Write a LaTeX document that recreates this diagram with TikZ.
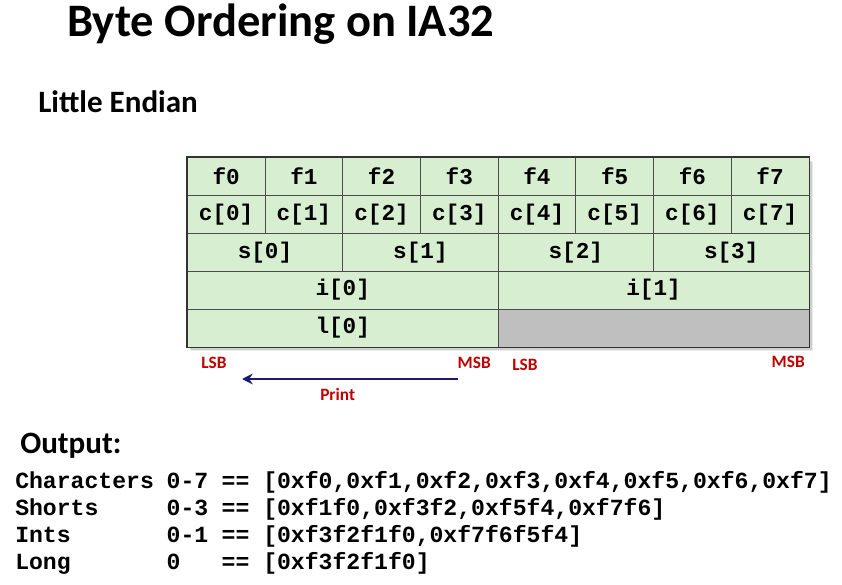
\documentclass[tikz,border=0pt]{standalone}
\usepackage{fontspec}
\setmainfont{Carlito}
\newfontfamily\codefont{Liberation Mono}
\usetikzlibrary{shadows,arrows.meta}
\definecolor{cellgreen}{RGB}{215,239,208}
\definecolor{cellgray}{RGB}{191,191,191}
\definecolor{lsbred}{RGB}{192,0,0}
\definecolor{navyarrow}{RGB}{28,28,110}
\begin{document}
\begin{tikzpicture}[x=0.75pt,y=-0.75pt,
  cell/.style={draw=black!70, line width=0.6pt, fill=cellgreen, inner sep=0pt,
    minimum height=28.4pt, font=\codefont\bfseries\fontsize{17}{19}\selectfont},
  emptycell/.style={cell, fill=cellgray},
  heading/.style={inner sep=0pt, anchor=base west, font=\bfseries\fontsize{23.3}{26}\selectfont},
  title/.style={inner sep=0pt, anchor=base west, font=\bfseries\fontsize{34.9}{40}\selectfont},
  bitlabel/.style={inner sep=0pt, text=lsbred, font=\bfseries\fontsize{13}{15}\selectfont},
  outcode/.style={inner sep=0pt, anchor=base west, font=\codefont\bfseries\fontsize{17.33}{20}\selectfont},
  printarrow/.style={draw=navyarrow, line width=2.2pt, -{Stealth[length=8pt,width=8pt]}}
]
\useasboundingbox (0,0) rectangle (842,585);
\fill[white] (0,0) rectangle (842,585);

\node[title] (title) at (67,37) {Byte Ordering on IA32};
\node[heading] (little) at (38,113) {Little Endian};

% shadow behind grid
\fill[black, opacity=0.12] (190.3,160.6) rectangle (812,349.9);
\fill[black, opacity=0.08] (191.3,161.6) rectangle (813,350.9);

\def\XL{187.3}
\def\CW{77.7}
\def\RH{37.86}
\def\YT{157.6}
% row 1: f0..f7
\foreach \k in {0,...,7} {
  \node[cell, minimum width=58.3pt] (f\k) at ({\XL+(\k+0.5)*\CW},{\YT+0.5*\RH}) {f\k};
}
% row 2: c[0]..c[7]
\foreach \k in {0,...,7} {
  \node[cell, minimum width=58.3pt] (c\k) at ({\XL+(\k+0.5)*\CW},{\YT+1.5*\RH}) {c[\k]};
}
% row 3: s[0]..s[3]
\foreach \k in {0,...,3} {
  \node[cell, minimum width=116.6pt] (s\k) at ({\XL+(2*\k+1)*\CW},{\YT+2.5*\RH}) {s[\k]};
}
% row 4: i[0], i[1]
\foreach \k in {0,1} {
  \node[cell, minimum width=233.1pt] (i\k) at ({\XL+(4*\k+2)*\CW},{\YT+3.5*\RH}) {i[\k]};
}
% row 5: l[0], empty
\node[cell, minimum width=233.1pt] (l0) at ({\XL+2*\CW},{\YT+4.5*\RH}) {l[0]};
\node[emptycell, minimum width=233.1pt] (l1) at ({\XL+6*\CW},{\YT+4.5*\RH}) {};
% outer border
\draw[black!80, line width=1.2pt] (f0.north west) rectangle (l1.south east);

% LSB / MSB labels
\node[bitlabel, anchor=base west] (lsb1) at (201,368) {LSB};
\node[bitlabel, anchor=base east] (msb1) at (491,368) {MSB};
\node[bitlabel, anchor=base west] (lsb2) at (512,370.5) {LSB};
\node[bitlabel, anchor=base east] (msb2) at (805,367.5) {MSB};

% print arrow
\coordinate (arrstart) at (458,379);
\coordinate (arrend) at (242,379);
\draw[printarrow] (arrstart) -- (arrend);
\node[bitlabel, anchor=base west] (print) at (320,400) {Print};

% output
\node[heading] (output) at (20,453) {Output:};
\node[outcode] (n1) at (15,488) {Characters};
\node[outcode] (r1) at (166.4,488) {0-7};
\node[outcode] (v1) at (221.4,488) {== [0xf0,0xf1,0xf2,0xf3,0xf4,0xf5,0xf6,0xf7]};
\node[outcode] (n2) at (15,515) {Shorts};
\node[outcode] (r2) at (166.4,515) {0-3};
\node[outcode] (v2) at (221.4,515) {== [0xf1f0,0xf3f2,0xf5f4,0xf7f6]};
\node[outcode] (n3) at (15,542) {Ints};
\node[outcode] (r3) at (166.4,542) {0-1};
\node[outcode] (v3) at (221.4,542) {== [0xf3f2f1f0,0xf7f6f5f4]};
\node[outcode] (n4) at (15,569) {Long};
\node[outcode] (r4) at (166.4,569) {0};
\node[outcode] (v4) at (221.4,569) {== [0xf3f2f1f0]};
\end{tikzpicture}
\end{document}
